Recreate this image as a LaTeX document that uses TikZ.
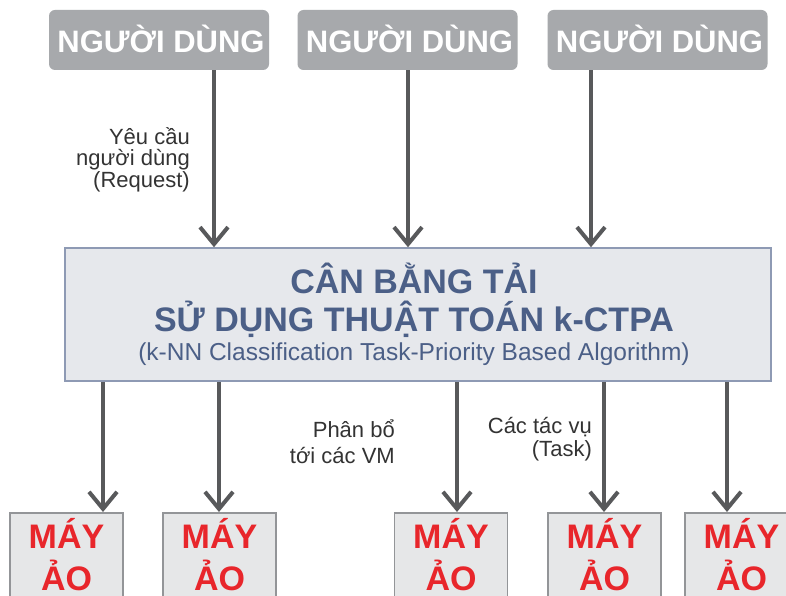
\documentclass[tikz,border=0pt]{standalone}
\usepackage{fontspec}
\setmainfont{Liberation Sans}
\usetikzlibrary{arrows.meta}

\definecolor{userfill}{HTML}{A7A9AC}
\definecolor{arrowgray}{HTML}{58595B}
\definecolor{lbfill}{HTML}{E6E8EC}
\definecolor{lbline}{HTML}{8E9AB4}
\definecolor{titleblue}{HTML}{4B5F87}
\definecolor{vmfill}{HTML}{E6E7E8}
\definecolor{vmline}{HTML}{939598}
\definecolor{vmred}{HTML}{E8262B}
\definecolor{labelgray}{HTML}{333333}

\begin{document}
\begin{tikzpicture}[x=1pt,y=-1pt,
  userbox/.style={fill=userfill, rounded corners=6pt, minimum width=220pt,
    minimum height=60pt, inner sep=0pt},
  usertext/.style={text=white, font=\bfseries\fontsize{31}{31}\selectfont,
    anchor=base, inner sep=0pt},
  lbbox/.style={fill=lbfill, draw=lbline, line width=1.5pt,
    minimum width=706pt, minimum height=133pt, inner sep=0pt},
  titlebig/.style={text=titleblue, font=\bfseries\fontsize{34}{34}\selectfont,
    anchor=base, inner sep=0pt},
  titlesmall/.style={text=titleblue, font=\fontsize{24.5}{24.5}\selectfont,
    anchor=base, inner sep=0pt},
  vmbox/.style={fill=vmfill, draw=vmline, line width=1.5pt,
    minimum width=113pt, minimum height=110pt, inner sep=0pt, anchor=north},
  vmtext/.style={text=vmred, font=\bfseries\fontsize{34}{34}\selectfont,
    anchor=base, inner sep=0pt},
  lbl/.style={text=labelgray, font=\fontsize{22}{22}\selectfont,
    anchor=base east, inner sep=0pt},
  flow/.style={draw=arrowgray, line width=4pt,
    -{Straight Barb[length=17pt, width=28pt]}}
]
\useasboundingbox (0,0) rectangle (786,596);
\fill[white] (0,0) rectangle (786,596);
\clip (0,0) rectangle (786,596);

% users
\node[userbox] (u1) at (159,40) {};
\node[userbox] (u2) at (407.5,40) {};
\node[userbox] (u3) at (657.5,40) {};
\node[usertext] (u1t) at (161,53) {NGƯỜI DÙNG};
\node[usertext] (u2t) at (409.5,53) {NGƯỜI DÙNG};
\node[usertext] (u3t) at (659.5,53) {NGƯỜI DÙNG};

% load balancer
\node[lbbox] (lb) at (418,314.5) {};
\node[titlebig] (lbt1) at (414,293) {CÂN BẰNG TẢI};
\node[titlebig] (lbt2) at (414,331) {SỬ DỤNG THUẬT TOÁN k-CTPA};
\node[titlesmall] (lbt3) at (414,360) {(k-NN Classification Task-Priority Based Algorithm)};

% virtual machines
\node[vmbox] (vm1) at (66.5,512) {};
\node[vmbox] (vm2) at (219.5,512) {};
\node[vmbox] (vm3) at (451,512) {};
\node[vmbox] (vm4) at (604.5,512) {};
\node[vmbox] (vm5) at (741.5,512) {};
\foreach \v/\x in {vm1/66.5, vm2/219.5, vm3/451, vm4/604.5, vm5/741.5}{
  \node[vmtext] (\v a) at (\x,548) {MÁY};
  \node[vmtext] (\v b) at (\x,590) {ẢO};
}

% requests from users
\draw[flow] (u1.south -| 214,0) -- (lb.north -| 214,0);
\draw[flow] (u2.south -| 408,0) -- (lb.north -| 408,0);
\draw[flow] (u3.south -| 591,0) -- (lb.north -| 591,0);

% tasks to virtual machines
\draw[flow] (lb.south -| 103,0) -- (vm1.north -| 103,0);
\draw[flow] (lb.south -| 219,0) -- (vm2.north -| 219,0);
\draw[flow] (lb.south -| 457,0) -- (vm3.north -| 457,0);
\draw[flow] (lb.south -| 604,0) -- (vm4.north -| 604,0);
\draw[flow] (lb.south -| 727,0) -- (vm5.north -| 727,0);

% labels
\node[lbl] (req1) at (190,145) {Yêu cầu};
\node[lbl] (req2) at (190,166) {người dùng};
\node[lbl] (req3) at (190,187) {(Request)};
\node[lbl] (al1) at (395,437) {Phân bổ};
\node[lbl] (al2) at (395,463) {tới các VM};
\node[lbl] (tk1) at (592,433) {Các tác vụ};
\node[lbl] (tk2) at (592,456) {(Task)};
\end{tikzpicture}
\end{document}
